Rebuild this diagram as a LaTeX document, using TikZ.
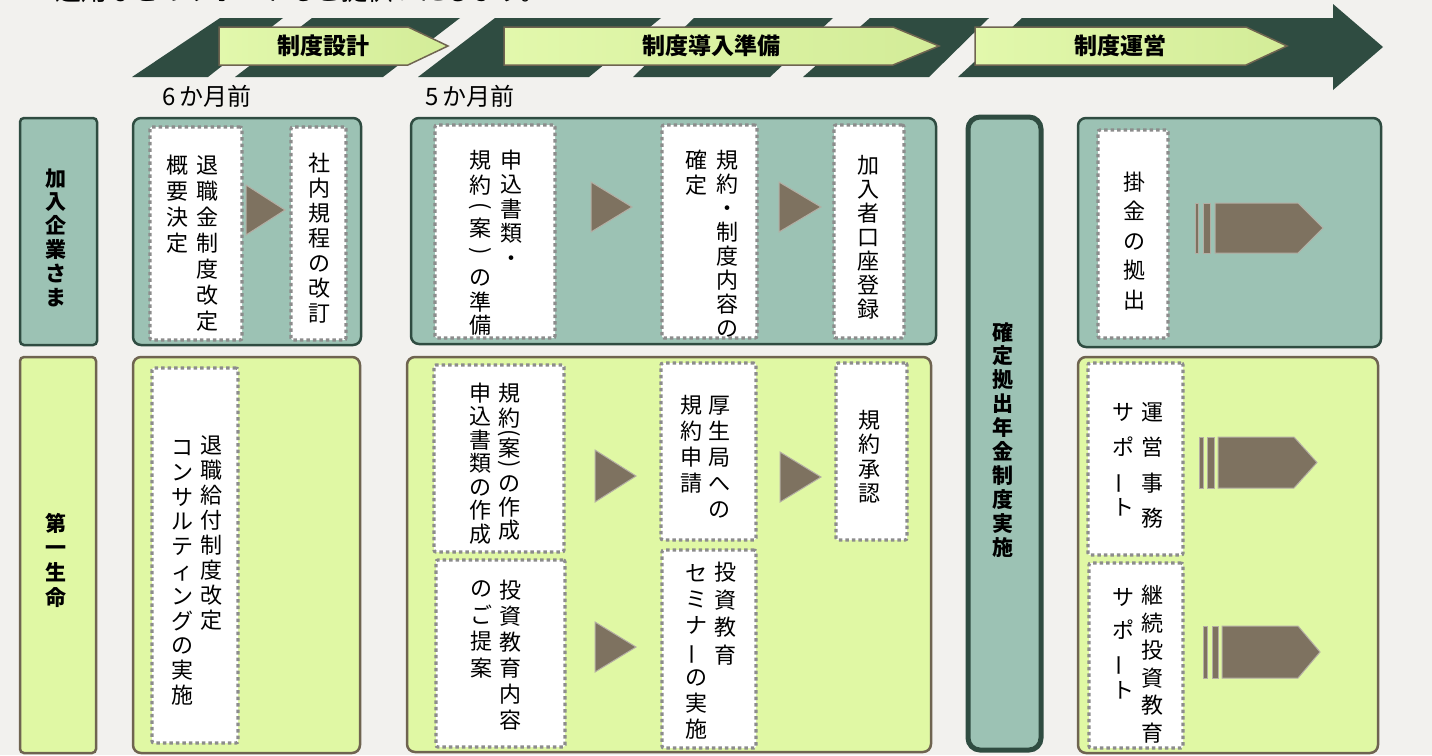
\documentclass[tikz,border=0pt]{standalone}
\usepackage{fontspec}
\setmainfont{Noto Sans CJK JP}
\usepackage{graphicx}
\definecolor{cBg}{HTML}{F2F1EE}
\definecolor{cDark}{HTML}{2F4C41}
\definecolor{cTeal}{HTML}{9CC2B4}
\definecolor{cLime}{HTML}{E0F8A4}
\definecolor{cBrown}{HTML}{6F6450}
\definecolor{cTri}{HTML}{7E7260}
\definecolor{cTriEdge}{HTML}{B4AEA4}
\definecolor{cDot}{HTML}{8C8C8C}
\definecolor{cHdrL}{HTML}{E2F8AC}
\definecolor{cHdrR}{HTML}{D3EC98}
\newcommand\vbar{\rotatebox[origin=c]{90}{ー}}
\newcommand\lpar{\rotatebox[origin=c]{-90}{(}}
\newcommand\rpar{\rotatebox[origin=c]{-90}{)}}
\newcommand\boxat[6]{\node[#1, minimum width={(#4)-(#2)}, minimum height={(#5)-(#3)}, inner sep=0pt] (#6) at ({((#2)+(#4))/2},{((#3)+(#5))/2}) {};}
\newcommand\vcol[6]{\foreach \ch [count=\i from 0] in {#6} {\node[#1] (#2\i) at (#3,{#4+\i*(#5)}) {\ch};}}
\newcommand\vpos[4]{\foreach \yy/\ch [count=\i] in {#4} {\node[#1] (#2\i) at (#3,\yy) {\ch};}}
\tikzset{
  vch/.style={inner sep=0pt, font=\fontsize{22}{22}\selectfont, text height=19.4pt, text depth=2.6pt, anchor=center},
  vchb/.style={inner sep=0pt, font=\bfseries\fontsize{21}{21}\selectfont, text height=18.5pt, text depth=2.5pt, anchor=center},
  card/.style={draw=cDot, line width=3.2pt, dash pattern=on 3.5pt off 3pt, fill=white, rounded corners=2pt},
  panT/.style={draw=cDark, line width=2.5pt, fill=cTeal, rounded corners=8pt},
  panL/.style={draw=cBrown, line width=2.5pt, fill=cLime, rounded corners=8pt},
  labT/.style={draw=cDark, line width=2.5pt, fill=cTeal, rounded corners=4pt},
  labL/.style={draw=cBrown, line width=2.5pt, fill=cLime, rounded corners=4pt},
  tallbox/.style={draw=cDark, line width=5pt, fill=cTeal, rounded corners=12pt},
  tri/.style={fill=cTri, draw=cTriEdge, line width=1pt},
  stripe/.style={fill=cDark},
  hdr/.style={draw=cBrown, line width=1.5pt, left color=cHdrL, right color=cHdrR},
  hdrtext/.style={inner sep=0pt, font=\bfseries\fontsize{23}{23}\selectfont},
  monthtext/.style={inner sep=0pt, font=\fontsize{24}{24}\selectfont},
}
\begin{document}
\begin{tikzpicture}[x=1pt,y=-1pt]
\useasboundingbox (0,0) rectangle (1432,755);
\fill[cBg] (0,0) rectangle (1432,755);

% clipped heading line at the very top
\begin{scope}
\clip (0,0) rectangle (1432,8);
\node[inner sep=0pt, anchor=base west, font=\fontsize{26}{26}\selectfont] (toptext) at (55,0.5) {運用などのサポートもご提供いたします。};
\end{scope}

% header band stripes
\fill[stripe] (132,77) -- (220,18) -- (283,18) -- (208,77) -- cycle;
\fill[stripe] (235,77) -- (312,18) -- (460,18) -- (383,77) -- cycle;
\fill[stripe] (418,77) -- (495,18) -- (661,18) -- (589,77) -- cycle;
\fill[stripe] (633,77) -- (694,18) -- (833,18) -- (770,77) -- cycle;
\fill[stripe] (803,77) -- (870,18) -- (989,18) -- (929,77) -- cycle;
\fill[stripe] (958,77) -- (1022,18) -- (1333,18) -- (1333,4) -- (1383,47) -- (1333,90) -- (1333,77) -- cycle;

% header labels
\path[hdr] (219,27) -- (408,27) -- (448,46) -- (408,65) -- (219,65) -- cycle;
\path[hdr] (504,27) -- (893,27) -- (939,46) -- (893,65) -- (504,65) -- cycle;
\path[hdr] (975,27) -- (1246,27) -- (1287,46) -- (1246,65) -- (975,65) -- cycle;
\node[hdrtext] (h1) at (323,46) {制度設計};
\node[hdrtext] (h2) at (711,46) {制度導入準備};
\node[hdrtext] (h3) at (1120,46) {制度運営};

\node[monthtext] (m6) at (207,96) {6\hspace{4pt}か月前};
\node[monthtext] (m5) at (470,96) {5\hspace{4pt}か月前};

% row labels and panels
\boxat{labT}{20}{118}{97}{345}{labTop}
\boxat{labL}{20}{357}{96}{753}{labBot}
\boxat{panT}{133}{118}{361}{345}{p1t}
\boxat{panL}{133}{357}{360}{753}{p1b}
\boxat{panT}{411}{118}{936}{344}{p2t}
\boxat{panL}{407}{357}{931}{752}{p2b}
\boxat{tallbox}{968}{117}{1041}{750}{tall}
\boxat{panT}{1078}{118}{1381}{347}{p3t}
\boxat{panL}{1078}{357}{1378}{753}{p3b}

\vcol{vchb}{lt}{56}{178}{23.8}{加,入,企,業,さ,ま}
\vcol{vchb}{lb}{56}{523}{24.7}{第,一,生,命}
\vcol{vchb}{tl}{1003}{332}{23.9}{確,定,拠,出,年,金,制,度,実,施}

% cards
\boxat{card}{150}{127}{242}{340}{A1}
\boxat{card}{291}{127}{346}{340}{A2}
\boxat{card}{435}{125}{555}{338}{B1}
\boxat{card}{662}{125}{757}{338}{B2}
\boxat{card}{834}{125}{904}{338}{B3}
\boxat{card}{1098}{130}{1168}{338}{C1}
\boxat{card}{152}{368}{238}{743}{D1}
\boxat{card}{434}{365}{564}{552}{E1}
\boxat{card}{436}{560}{565}{747}{E2}
\boxat{card}{661}{363}{756}{540}{G1}
\boxat{card}{836}{363}{907}{540}{H1}
\boxat{card}{662}{550}{756}{748}{G2}
\boxat{card}{1088}{363}{1183}{555}{F1}
\boxat{card}{1089}{563}{1183}{748}{F2}

% card texts (vertical, columns right to left)
\vcol{vch}{A1r}{207}{165}{26}{退,職,金,制,度,改,定}
\vcol{vch}{A1l}{177}{165}{26}{概,要,決,定}
\vcol{vch}{A2t}{319}{163}{25}{社,内,規,程,の,改,訂}
\vcol{vch}{B1r}{511}{160}{24.5}{申,込,書,類,・}
\vpos{vch}{B1l}{480}{160/規,185/約,205/\lpar,228/案,250/\rpar,277/の,302/準,325/備}
\vcol{vch}{B2r}{727}{160}{24}{規,約,・,制,度,内,容,の}
\vcol{vch}{B2l}{696}{160}{25}{確,定}
\vcol{vch}{B3t}{868}{165}{24}{加,入,者,口,座,登,録}
\vcol{vch}{C1t}{1134}{182}{29.5}{掛,金,の,拠,出}
\vcol{vch}{D1r}{211}{445}{25}{退,職,給,付,制,度,改,定}
\vcol{vch}{D1l}{182}{447}{24.8}{コ,ン,サ,ル,テ,ィ,ン,グ,の,実,施}
\vpos{vch}{E1r}{509}{393/規,418/約,432/\lpar,448/案,463/\rpar,483/の,507/作,530/成}
\vcol{vch}{E1l}{480}{393}{23.5}{申,込,書,類,の,作,成}
\vcol{vch}{E2r}{510}{590}{26}{投,資,教,育,内,容}
\vcol{vch}{E2l}{481}{588}{26.7}{の,ご,提,案}
\vcol{vch}{G1r}{719}{405}{26}{厚,生,局,へ,の}
\vcol{vch}{G1l}{691}{405}{26}{規,約,申,請}
\vcol{vch}{H1t}{869}{420}{24.5}{規,約,承,認}
\vcol{vch}{G2r}{725}{572}{27.7}{投,資,教,育}
\vcol{vch}{G2l}{696}{573}{26}{セ,ミ,ナ,\vbar,の,実,施}
\vcol{vch}{F1r}{1152}{412}{35.5}{運,営,事,務}
\vpos{vch}{F1l}{1123}{412/サ,447/ポ,480/\vbar,507/ト}
\vcol{vch}{F2r}{1152}{595}{27.6}{継,続,投,資,教,育}
\vpos{vch}{F2l}{1123}{597/サ,630/ポ,662/\vbar,690/ト}

% step triangles
\path[tri] (246,185) -- (285,210) -- (246,235) -- cycle;
\path[tri] (591,182) -- (632,207) -- (591,232) -- cycle;
\path[tri] (779,182) -- (821,207) -- (779,232) -- cycle;
\path[tri] (595,450) -- (636,476) -- (595,502) -- cycle;
\path[tri] (595,622) -- (636,647) -- (595,672) -- cycle;
\path[tri] (780,452) -- (821,477) -- (780,502) -- cycle;

% continuing arrows
\path[tri] (1195,203) rectangle (1198.5,253);
\path[tri] (1203,203) rectangle (1210,253);
\path[tri] (1215,203) -- (1298,203) -- (1323,228) -- (1298,253) -- (1215,253) -- cycle;
\path[tri] (1199,437) rectangle (1203,488);
\path[tri] (1207,437) rectangle (1214,488);
\path[tri] (1218,437) -- (1294,437) -- (1317,462.5) -- (1294,488) -- (1218,488) -- cycle;
\path[tri] (1203,626) rectangle (1207,678);
\path[tri] (1212,626) rectangle (1218,678);
\path[tri] (1222,626) -- (1298,626) -- (1320,652) -- (1298,678) -- (1222,678) -- cycle;
\end{tikzpicture}
\end{document}
